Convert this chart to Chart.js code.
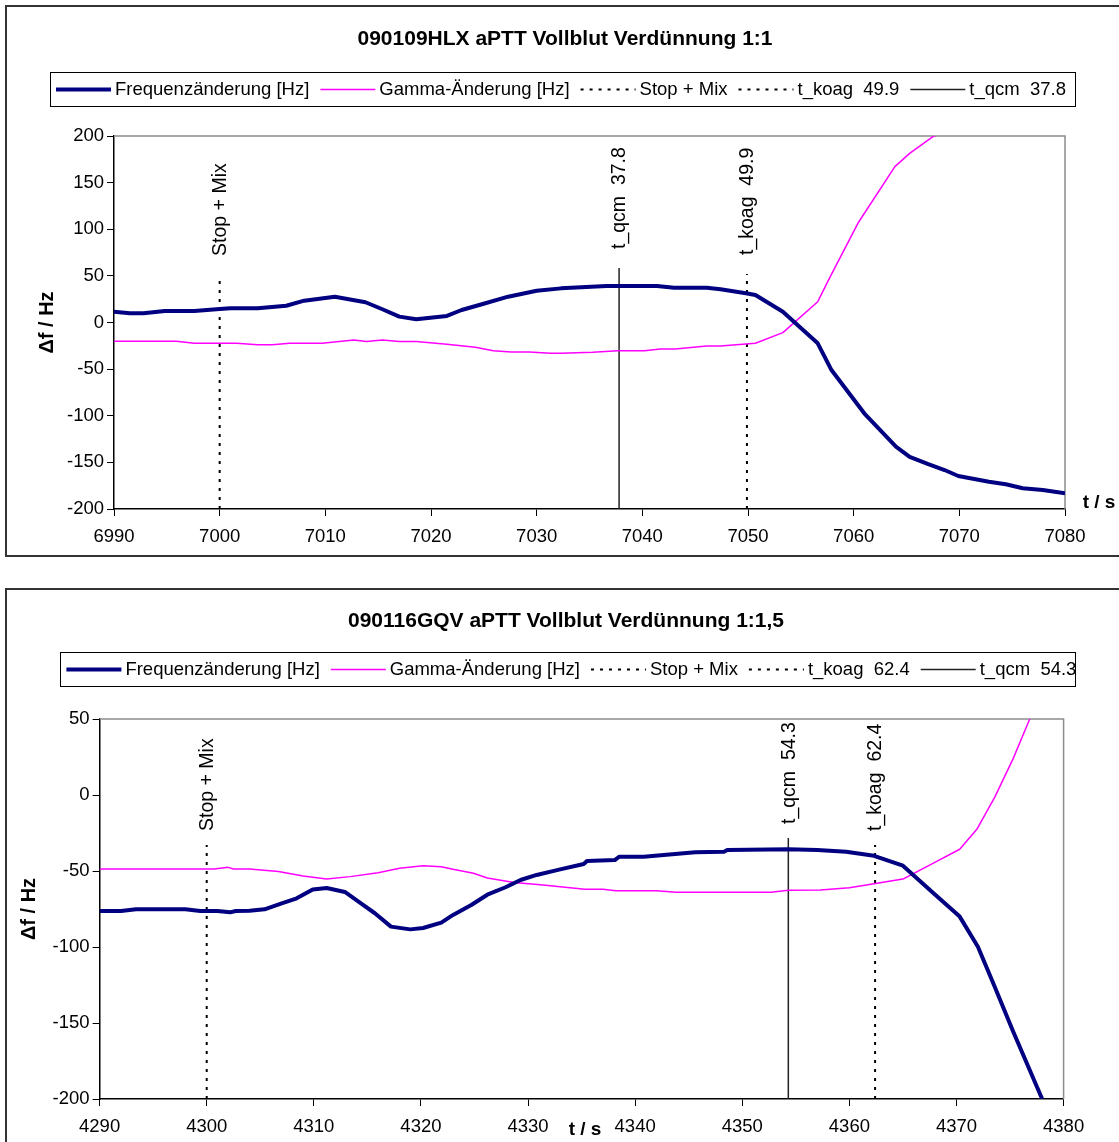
<!DOCTYPE html>
<html lang="de">
<head>
<meta charset="UTF-8">
<title>aPTT Vollblut Verdünnung</title>
<script src="https://cdn.jsdelivr.net/npm/chart.js"></script>
<style>
    html, body {
        margin: 0;
        padding: 0;
        background: #fff;
        overflow: hidden;
    }
    body {
        width: 1119px;
        height: 1142px;
        position: relative;
    }
    .chart-box {
        position: absolute;
        left: 5px;
        width: 1125px;
        border: 2px solid #333;
        background: #fff;
    }
    #box1 { top: 5px; height: 548px; }
    #box2 { top: 588px; height: 578px; }
    canvas { display: block; }
</style>
</head>
<body>
<div class="chart-box" id="box1"><canvas id="chart1" width="1125" height="548"></canvas></div>
<div class="chart-box" id="box2"><canvas id="chart2" width="1125" height="578"></canvas></div>

<script>
// --- Messung 1: 090109HLX, Verdünnung 1:1 ---
const freq1T = [6990, 6991.5, 6992.8, 6994.8, 6997.6, 7000, 7001, 7003.6, 7006.3, 7008, 7010.9,
    7013.8, 7015.4, 7017, 7018.6, 7021.5, 7022.9, 7024.9, 7027.3, 7030, 7032.3, 7036.6, 7041.4,
    7043, 7046.1, 7047.4, 7049.8, 7050.7, 7053.3, 7056.6, 7057.9, 7061, 7064, 7065.3, 7067,
    7068.6, 7069.9, 7072.8, 7074.4, 7076, 7077.9, 7080];
const freq1 = [11.6, 10, 10, 12.3, 12.3, 14.5, 15.2, 15.2, 18, 23.4, 27.7,
    21.7, 14.2, 6.3, 3.4, 7, 13.4, 19.8, 27.7, 34, 36.6, 39.1, 39.1,
    37.3, 37.3, 35.6, 31.3, 29.5, 11.6, -22.3, -51, -97.4, -133.2, -144, -151.7,
    -158.2, -164.6, -170.7, -173.5, -177.8, -179.6, -183.2];
const gamma1T = [6990, 6995.9, 6997.6, 7001.6, 7003.6, 7005, 7006.6, 7009.7, 7012.7, 7013.9,
    7015.4, 7017, 7018.6, 7021.5, 7024.2, 7025.9, 7027.6, 7029.3, 7031.3, 7032.3, 7035.3,
    7037.7, 7040.2, 7041.7, 7043.1, 7046.1, 7047.4, 7050.7, 7053.3, 7056.6, 7057.7, 7060.4,
    7063.9, 7065.3, 7067.5, 7068.3];
const gamma1 = [-20.2, -20.2, -22.3, -22.3, -23.8, -23.8, -22.3, -22.3, -18.8, -20.5,
    -18.8, -20.5, -20.5, -23.4, -26.6, -30.2, -31.6, -31.6, -33, -33, -32,
    -30.2, -30.2, -28.4, -28.4, -25.2, -25.2, -22.3, -10.9, 22.3, 47.4, 106.4,
    167.1, 181.4, 199.3, 203];
const marker1Labels = ['Stop + Mix', 't_koag  49.9', 't_qcm  37.8'];
const marker1T = [7000, 7049.9, 7037.8];
const marker1Top = [51, 52, 58.4];

// --- Messung 2: 090116GQV, Verdünnung 1:1,5 ---
const freq2T = [4290, 4292, 4293.4, 4298, 4299.4, 4301, 4302.2, 4302.7, 4304, 4305.4, 4307,
    4308.4, 4309.9, 4311.2, 4312.9, 4314.4, 4315.7, 4317.2, 4319, 4320.2, 4321.9, 4323,
    4324.7, 4326.2, 4327.9, 4329.3, 4330.8, 4333, 4335.2, 4335.5, 4338.1, 4338.5, 4340.8,
    4345.6, 4348.3, 4348.6, 4354.3, 4357, 4359.7, 4362.3, 4365, 4367.7, 4370.3, 4372,
    4373.5, 4375.3, 4378];
const freq2 = [-76.3, -76.3, -75.2, -75.2, -76.3, -76.3, -77.2, -76.3, -76.1, -75.2, -71.3,
    -68, -62.1, -61.2, -63.8, -71.3, -77.8, -86.6, -88.4, -87.5, -84, -78.9,
    -72.4, -65.6, -60.7, -55.9, -52.6, -48.9, -45.4, -43.4, -42.8, -40.6, -40.6,
    -37.7, -37.3, -36.2, -35.7, -36.2, -37.3, -40, -46.5, -63.6, -80, -99.8,
    -125, -155.7, -200];
const gamma2T = [4290, 4300.7, 4302, 4302.5, 4304, 4306.7, 4309, 4311.2, 4313.4, 4316, 4318,
    4320.2, 4321.9, 4323, 4324.9, 4326.2, 4328.7, 4331.4, 4333, 4335.3, 4337, 4338.2,
    4342, 4343.8, 4352.7, 4354.3, 4357.3, 4360, 4362.3, 4365, 4367.8, 4370.3, 4371.9,
    4373.6, 4375.3, 4376.8, 4377.2];
const gamma2 = [-48.7, -48.7, -47.6, -48.7, -48.7, -50.4, -53.3, -55.3, -53.7, -51.1, -48.2,
    -46.5, -47.2, -48.9, -51.5, -54.6, -57.5, -59.2, -60.3, -62, -62, -63,
    -63, -64, -64, -62.7, -62.5, -61, -58.4, -55.3, -45, -35.7, -22.6,
    -1.1, 24.1, 49.3, 56];
const marker2Labels = ['Stop + Mix', 't_koag  62.4', 't_qcm  54.3'];
const marker2T = [4300, 4362.4, 4354.3];
const marker2Top = [-32.9, -32.9, -28.3];

const FONT = '"Liberation Sans", Arial, sans-serif';
Chart.defaults.font.family = FONT;
Chart.defaults.color = '#000';

function toPoints(ts, vs) {
    return ts.map((t, i) => ({ x: t, y: vs[i] }));
}

function buildDatasets(fT, f, gT, g, mLabels, mT, mTop, yMin) {
    const sets = [
        { label: 'Frequenzänderung [Hz]', data: toPoints(fT, f), borderColor: '#000080', borderWidth: 4 },
        { label: 'Gamma-Änderung [Hz]', data: toPoints(gT, g), borderColor: '#ff00ff', borderWidth: 1.5 }
    ];
    mLabels.forEach((lab, i) => {
        const solid = lab.startsWith('t_qcm');
        sets.push({
            label: lab,
            marker: true,
            data: [{ x: mT[i], y: yMin }, { x: mT[i], y: mTop[i] }],
            borderColor: solid ? '#222' : '#000',
            borderWidth: solid ? 1.5 : 2,
            borderDash: solid ? [] : [3, 6]
        });
    });
    sets.forEach(s => {
        s.pointRadius = 0;
        s.tension = 0;
        s.fill = false;
        s.clip = 0;
        s.borderJoinStyle = 'round';
    });
    return sets;
}

// Titel, Rahmen der Zeichenfläche, Legende, senkrechte Beschriftungen, "t / s"
const extrasPlugin = {
    id: 'extras',
    beforeDatasetsDraw(chart) {
        const { ctx, chartArea: a } = chart;
        ctx.save();
        ctx.strokeStyle = '#8c8c8c';
        ctx.lineWidth = 1.5;
        ctx.beginPath();
        ctx.moveTo(a.left, a.top);
        ctx.lineTo(a.right, a.top);
        ctx.lineTo(a.right, a.bottom);
        ctx.stroke();
        ctx.restore();
    },
    afterDraw(chart, args, opts) {
        const ctx = chart.ctx;
        const L = opts.legend;

        ctx.save();
        ctx.font = 'bold 21px ' + FONT;
        ctx.fillStyle = '#000';
        ctx.textBaseline = 'middle';
        ctx.textAlign = 'center';
        ctx.fillText(opts.title.text, opts.title.x, opts.title.y);
        ctx.restore();

        ctx.save();
        ctx.strokeStyle = '#000';
        ctx.lineWidth = 1;
        ctx.strokeRect(L.x + 0.5, L.y + 0.5, L.w, L.h);
        ctx.font = '18.5px ' + FONT;
        ctx.fillStyle = '#000';
        ctx.textBaseline = 'middle';
        ctx.textAlign = 'left';
        const cy = L.y + L.h / 2 + 0.5;
        let x = L.start;
        chart.data.datasets.forEach(ds => {
            ctx.save();
            ctx.strokeStyle = ds.borderColor;
            ctx.lineWidth = ds.borderWidth;
            ctx.setLineDash(ds.borderDash || []);
            ctx.beginPath();
            ctx.moveTo(x, cy);
            ctx.lineTo(x + 55, cy);
            ctx.stroke();
            ctx.restore();
            x += 59;
            ctx.fillText(ds.label, x, cy);
            x += ctx.measureText(ds.label).width + 11;
        });
        ctx.restore();

        // senkrechte Beschriftungen über den Markierungslinien
        ctx.save();
        ctx.font = '19.5px ' + FONT;
        ctx.fillStyle = '#000';
        ctx.textBaseline = 'middle';
        ctx.textAlign = 'left';
        chart.data.datasets.forEach((ds, i) => {
            if (!ds.marker) return;
            const top = chart.getDatasetMeta(i).data[1];
            ctx.save();
            ctx.translate(top.x + 1, top.y - opts.labelGap);
            ctx.rotate(-Math.PI / 2);
            ctx.fillText(ds.label, 0, 0);
            ctx.restore();
        });
        ctx.restore();

        // Achsentitel Zeit
        ctx.save();
        ctx.font = 'bold 19px ' + FONT;
        ctx.fillStyle = '#000';
        ctx.textBaseline = 'middle';
        ctx.textAlign = 'center';
        ctx.fillText('t / s', opts.tLabel.x, opts.tLabel.y);
        ctx.restore();
    }
};

function buildOptions(c) {
    const tickFont = { size: 18.5 };
    return {
        responsive: false,
        animation: false,
        events: [],
        layout: { padding: { left: 0, right: c.padRight, top: 129, bottom: 0 } },
        plugins: {
            legend: { display: false },
            tooltip: { enabled: false },
            title: { display: false },
            extras: { title: c.title, legend: c.legend, tLabel: c.tLabel, labelGap: c.labelGap }
        },
        scales: {
            x: {
                type: 'linear',
                min: c.xMin,
                max: c.xMax,
                afterFit: s => { s.height = c.xAxisHeight; },
                ticks: {
                    stepSize: 10,
                    color: '#000',
                    font: tickFont,
                    padding: 10,
                    maxRotation: 0,
                    autoSkip: false,
                    callback: v => String(v)
                },
                grid: { drawOnChartArea: false, drawTicks: true, tickLength: 7, color: '#000', lineWidth: 1 },
                border: { display: true, color: '#000', width: 1.5 }
            },
            y: {
                min: c.yMin,
                max: c.yMax,
                afterFit: s => { s.width = c.yAxisWidth; },
                ticks: {
                    stepSize: 50,
                    color: '#000',
                    font: tickFont,
                    padding: 3,
                    callback: v => String(v)
                },
                grid: { drawOnChartArea: false, drawTicks: true, tickLength: 7, color: '#000', lineWidth: 1 },
                border: { display: true, color: '#000', width: 1.5 },
                title: {
                    display: true,
                    text: 'Δf / Hz',
                    color: '#000',
                    font: { size: 20, weight: 'bold' },
                    padding: { top: c.yTitlePad, bottom: 0 }
                }
            }
        }
    };
}

new Chart(document.getElementById('chart1'), {
    type: 'line',
    data: { datasets: buildDatasets(freq1T, freq1, gamma1T, gamma1, marker1Labels, marker1T, marker1Top, -200) },
    options: buildOptions({
        title: { text: '090109HLX aPTT Vollblut Verdünnung 1:1', x: 558, y: 32 },
        xMin: 6990, xMax: 7080, yMin: -200, yMax: 200,
        padRight: 67, xAxisHeight: 46, yAxisWidth: 107, yTitlePad: 28,
        legend: { x: 43, y: 65, w: 1025, h: 34, start: 49 },
        tLabel: { x: 1092, y: 496 },
        labelGap: 19
    }),
    plugins: [extrasPlugin]
});

new Chart(document.getElementById('chart2'), {
    type: 'line',
    data: { datasets: buildDatasets(freq2T, freq2, gamma2T, gamma2, marker2Labels, marker2T, marker2Top, -200) },
    options: buildOptions({
        title: { text: '090116GQV aPTT Vollblut Verdünnung 1:1,5', x: 559, y: 31.5 },
        xMin: 4290, xMax: 4380, yMin: -200, yMax: 50,
        padRight: 68.4, xAxisHeight: 69, yAxisWidth: 92.6, yTitlePad: 10.5,
        legend: { x: 53, y: 62, w: 1015, h: 34, start: 59.4 },
        tLabel: { x: 578, y: 540 },
        labelGap: 14
    }),
    plugins: [extrasPlugin]
});
</script>
</body>
</html>
